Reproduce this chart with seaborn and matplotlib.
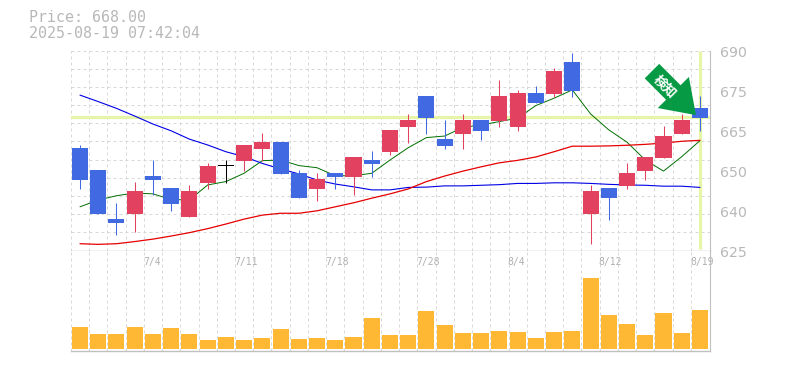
import matplotlib
matplotlib.use("Agg")
import matplotlib.pyplot as plt
import numpy as np
import pandas as pd
import seaborn as sns

# --- dados ---
opens = [658.3, 651.2, 635.2, 636.9, 649.2, 645.3, 635.9, 646.9, 652.5, 654.1, 658.0, 660.3,
         650.2, 645.0, 650.2, 648.9, 654.4, 657.0, 665.1, 675.2, 661.2, 662.9, 667.4, 667.1,
         665.1, 676.2, 675.9, 686.3, 636.9, 645.3, 646.0, 650.8, 655.1, 662.9, 671.3]
closes = [647.9, 636.9, 633.9, 644.3, 647.9, 640.1, 644.3, 652.5, 652.5, 659.3, 660.3, 649.9,
          642.1, 648.2, 648.9, 655.4, 653.1, 664.2, 667.4, 668.1, 659.0, 667.4, 663.9, 675.2,
          676.2, 672.9, 683.3, 676.8, 644.3, 642.1, 650.2, 655.4, 662.2, 667.4, 668.1]
highs = [659.3, 651.2, 640.4, 647.3, 654.4, 645.3, 646.3, 653.4, 654.4, 659.3, 663.2, 660.3,
         651.2, 650.2, 650.2, 655.4, 657.3, 664.2, 669.4, 675.2, 667.4, 669.4, 667.4, 680.4,
         677.2, 678.5, 684.3, 689.2, 646.3, 645.3, 653.4, 655.4, 665.5, 669.4, 675.2]
lows = [645.0, 636.9, 630.0, 631.0, 643.0, 637.8, 635.9, 645.0, 646.9, 650.8, 654.1, 649.9,
        642.1, 641.1, 645.0, 643.0, 648.9, 656.0, 659.9, 662.9, 658.0, 658.0, 660.9, 665.1,
        663.8, 672.9, 674.9, 674.9, 627.1, 634.9, 645.0, 647.9, 655.1, 662.9, 663.9]
ma_short = [639.2, 641.4, 642.8, 643.7, 643.4, 641.6, 641.4, 646.3, 647.4, 650.1, 654.2, 654.4,
            652.6, 651.9, 649.3, 649.3, 650.1, 654.4, 658.4, 661.7, 662.2, 665.0, 665.8, 666.9,
            668.0, 672.1, 674.5, 677.2, 669.4, 664.2, 660.2, 654.4, 650.8, 655.5, 660.7]
ma_mid = [675.5, 673.4, 671.2, 668.7, 666.1, 663.9, 661.2, 659.3, 657.1, 655.5, 653.3, 651.5,
          649.9, 647.9, 646.6, 645.7, 644.7, 644.7, 645.5, 645.6, 646.0, 646.0, 646.2, 646.4,
          646.8, 646.8, 647.0, 647.0, 646.8, 646.5, 646.3, 646.2, 645.9, 645.9, 645.5]
ma_long = [627.2, 627.0, 627.2, 627.9, 628.7, 629.7, 630.8, 632.1, 633.6, 635.2, 636.5, 637.1,
           637.1, 637.9, 639.2, 640.5, 642.0, 643.4, 645.0, 647.4, 649.2, 650.8, 652.2, 653.5,
           654.3, 655.4, 657.1, 658.9, 658.9, 659.0, 659.2, 659.5, 659.9, 660.5, 660.8]
volumes = [22, 15, 15, 22, 15, 21, 15, 9, 12, 9, 11, 20, 10, 11, 9, 12, 31, 14,
           14, 38, 24, 16, 16, 18, 17, 11, 17, 18, 71, 34, 25, 14, 36, 16, 39]
date_pos = [4, 9, 14, 19, 24, 29, 34]
date_labels = ["7/4", "7/11", "7/18", "7/28", "8/4", "8/12", "8/19"]
price_ticks = [625, 638, 651, 664, 677, 690]
price_labels = ["625", "640", "650", "665", "675", "690"]
last_price = 668.3
signal_text = "検知"

df = pd.DataFrame({"i": range(len(opens)), "open": opens, "close": closes, "high": highs,
                   "low": lows, "short": ma_short, "mid": ma_mid, "long": ma_long, "vol": volumes})

BLUE = "#4169e1"
RED = "#e24260"
GRID = "#d8d8d8"
AXIS = "#c0c0c0"
TXT = "#b8b8b8"
YEL = "#e6f5a8"
W, H = 785, 370

sns.set_style("white")
fig = plt.figure(figsize=(W / 100, H / 100), dpi=100)
L, R = 70.5, 710.0
ax = fig.add_axes([L / W, 1 - 250.5 / H, (R - L) / W, 200 / H])
ax_v = fig.add_axes([L / W, 1 - 350.5 / H, (R - L) / W, 100 / H])
xlim = (-0.52, 34.55)

# --- precos ---
ax.axhline(last_price, color=YEL, lw=2.3, zorder=1.5)
ax.vlines(34, 625.5, 690, color=YEL, lw=2.3, zorder=1.5)
sns.lineplot(data=df, x="i", y="short", ax=ax, color="#006f00", lw=0.7, zorder=2, estimator=None)
sns.lineplot(data=df, x="i", y="mid", ax=ax, color="#0000e6", lw=0.8, zorder=2, estimator=None)
sns.lineplot(data=df, x="i", y="long", ax=ax, color="#e60000", lw=0.9, zorder=2, estimator=None)

for _, c in df.iterrows():
    if c["open"] == c["close"]:
        col = "black"
    else:
        col = RED if c["close"] > c["open"] else BLUE
    ax.vlines(c["i"], c["low"], c["high"], color=col, lw=0.75, zorder=3)
    body = max(abs(c["close"] - c["open"]), 0.25)
    ax.bar(c["i"], body, bottom=min(c["open"], c["close"]), width=0.88, color=col, lw=0, zorder=4)

ax.set_xlim(xlim)
ax.set_ylim(625, 690)
ax.set_yticks(np.linspace(625, 690, 12))
ax.set_yticklabels([])
ax.tick_params(length=0)

# --- volume ---
sns.barplot(data=df, x="i", y="vol", ax=ax_v, color="#ffb833", native_scale=True, width=0.88,
            saturation=1, lw=0, zorder=3)
ax_v.set_xlim(xlim)
ax_v.set_ylim(-2, 98)
ax_v.set_yticks([])
ax_v.tick_params(length=0)

for a in (ax, ax_v):
    a.set_xlabel("")
    a.set_ylabel("")
    a.set_xticks(np.arange(0, 35) - 0.5)
    a.set_xticklabels([])
    a.grid(True, color=GRID, ls=(0, (3, 3)), lw=0.72, zorder=0)
    a.set_axisbelow(True)
    for s in ("top", "left"):
        a.spines[s].set_visible(False)
    a.spines["right"].set_color(AXIS)
    a.spines["bottom"].set_color(AXIS)
    a.spines["right"].set_linewidth(0.8)
    a.spines["bottom"].set_linewidth(1.0)
ax_v.grid(False, axis="y")

# --- textos ---
for p, s in zip(price_ticks, price_labels):
    ax.annotate(s, xy=(1, p), xycoords=ax.get_yaxis_transform(), xytext=(10, -2.5), textcoords="offset pixels",
                ha="left", va="center", fontsize=10.2, color=TXT)
for i, s in zip(date_pos, date_labels):
    ax_v.annotate(s, xy=(i, 1), xycoords=ax_v.get_xaxis_transform(), xytext=(-10, -12), textcoords="offset pixels",
                  ha="left", va="center", fontsize=7, family="DejaVu Sans Mono", color="#b0b0b0")
fig.text(29 / W, 1 - 18 / H, "Price: 668.00", family="DejaVu Sans Mono", fontsize=10.8, color=TXT, va="center")
fig.text(29 / W, 1 - 33 / H, "2025-08-19 07:42:04", family="DejaVu Sans Mono", fontsize=10.8, color=TXT, va="center")

# --- seta de sinal ---
px = 0.72
ax.annotate("", xy=(33.78, 669.0), xytext=(-44, 44), textcoords="offset pixels",
            arrowprops=dict(arrowstyle=f"simple,head_length={32 * px},head_width={44 * px},tail_width={20.5 * px}",
                            mutation_scale=1, color="#069a45", lw=0, shrinkA=0, shrinkB=0), zorder=6)
ax.annotate(signal_text, xy=(33.78, 669.0), xytext=(-31, 28.5), textcoords="offset pixels", rotation=-45,
            rotation_mode="anchor", ha="center", va="center", fontsize=9.5, fontweight="bold", color="white",
            family=["Noto Sans CJK JP", "DejaVu Sans"], zorder=7)

fig.savefig("out.png", dpi=100, facecolor="white")
